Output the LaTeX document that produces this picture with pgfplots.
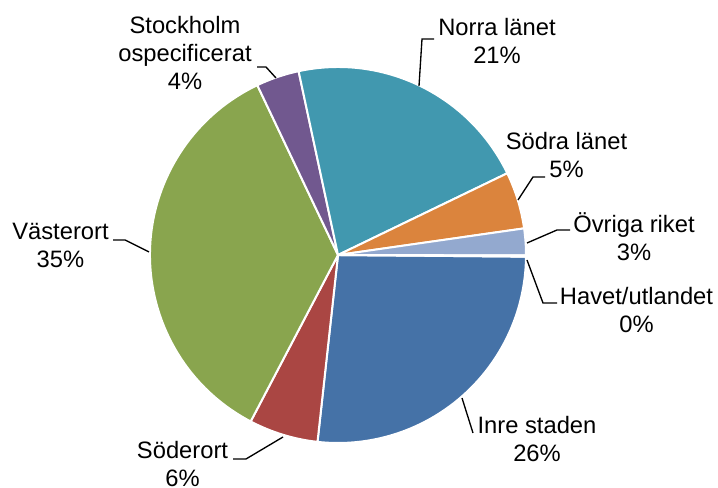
\documentclass[border=0pt]{standalone}
\usepackage{pgfplots}
\usepackage{pgfplotstable}
\pgfplotsset{compat=1.18}
\usepackage{fontspec}
\setmainfont{Liberation Sans}

\definecolor{cInre}{HTML}{4572A7}
\definecolor{cSoder}{HTML}{AA4643}
\definecolor{cVaster}{HTML}{89A54E}
\definecolor{cOspec}{HTML}{71588F}
\definecolor{cNorra}{HTML}{4198AF}
\definecolor{cSodra}{HTML}{DB843D}
\definecolor{cOvriga}{HTML}{93A9CF}
\definecolor{cHavet}{HTML}{D19392}

\tikzset{lbl/.style={font=\fontsize{17.8pt}{21pt}\selectfont, align=center, inner sep=0pt, text=black}}

% share of each area (percent), clockwise from the 3 o'clock position
\pgfplotstableread{
idx value
0 26.6
1 5.95
2 35.25
3 3.7
4 21.2
5 4.9
6 2.3
7 0.1
}\piedata

\xdef\cum{-0.5}
\expandafter\xdef\csname pieA0\endcsname{-0.5}
\pgfplotsforeachungrouped \i in {0,...,7}{%
  \pgfplotstablegetelem{\i}{value}\of\piedata
  \pgfmathsetmacro\tmp{\cum - 3.6*\pgfplotsretval}%
  \xdef\cum{\tmp}%
  \pgfmathtruncatemacro\j{\i+1}%
  \expandafter\xdef\csname pieA\j\endcsname{\tmp}%
}

\def\cx{338}
\def\cy{233}
\def\rr{188}
\newcommand\pieslice[2]{%
  \fill[#2, draw=white, line width=1.5pt, line join=round]
    (axis cs:\cx,\cy) --
    (axis cs:{\cx+\rr*cos(\csname pieA#1\endcsname)},{\cy+\rr*sin(\csname pieA#1\endcsname)})
    arc[start angle=\csname pieA#1\endcsname,
        end angle=\csname pieA\the\numexpr#1+1\relax\endcsname,
        radius=141pt] -- cycle;
}

\begin{document}
\begin{tikzpicture}
\begin{axis}[
  scale only axis, width=538.5pt, height=366pt,
  xmin=0, xmax=718, ymin=0, ymax=488,
  hide axis, clip=false,
]
\path (axis cs:0,0) rectangle (axis cs:718,488);
\pieslice{0}{cInre}
\pieslice{1}{cSoder}
\pieslice{2}{cVaster}
\pieslice{3}{cOspec}
\pieslice{4}{cNorra}
\pieslice{5}{cSodra}
\pieslice{6}{cOvriga}
\pieslice{7}{cHavet}

% leader lines
\addplot[black, line width=1pt, mark=none] coordinates {(257,421) (266,421) (276,410)};
\addplot[black, line width=1pt, mark=none] coordinates {(434,449) (422,449) (419,402)};
\addplot[black, line width=1pt, mark=none] coordinates {(545,311) (533,311) (518,288)};
\addplot[black, line width=1pt, mark=none] coordinates {(570,258) (557,258) (527,245)};
\addplot[black, line width=1pt, mark=none] coordinates {(527,228) (543,185) (557,185)};
\addplot[black, line width=1pt, mark=none] coordinates {(462,90) (473,55)};
\addplot[black, line width=1pt, mark=none] coordinates {(283,51) (246,29) (233,29)};
\addplot[black, line width=1pt, mark=none] coordinates {(149,236) (125,248) (113,248)};

% labels
\node[lbl] at (axis cs:185,435) {Stockholm\\ospecificerat\\4\%};
\node[lbl] at (axis cs:497,447.5) {Norra länet\\21\%};
\node[lbl] at (axis cs:566.5,333) {Södra länet\\5\%};
\node[lbl] at (axis cs:634,251) {Övriga riket\\3\%};
\node[lbl] at (axis cs:636.5,178) {Havet/utlandet\\0\%};
\node[lbl] at (axis cs:537,48.5) {Inre staden\\26\%};
\node[lbl] at (axis cs:182.5,24) {Söderort\\6\%};
\node[lbl] at (axis cs:60.5,243) {Västerort\\35\%};
\end{axis}
\end{tikzpicture}
\end{document}
